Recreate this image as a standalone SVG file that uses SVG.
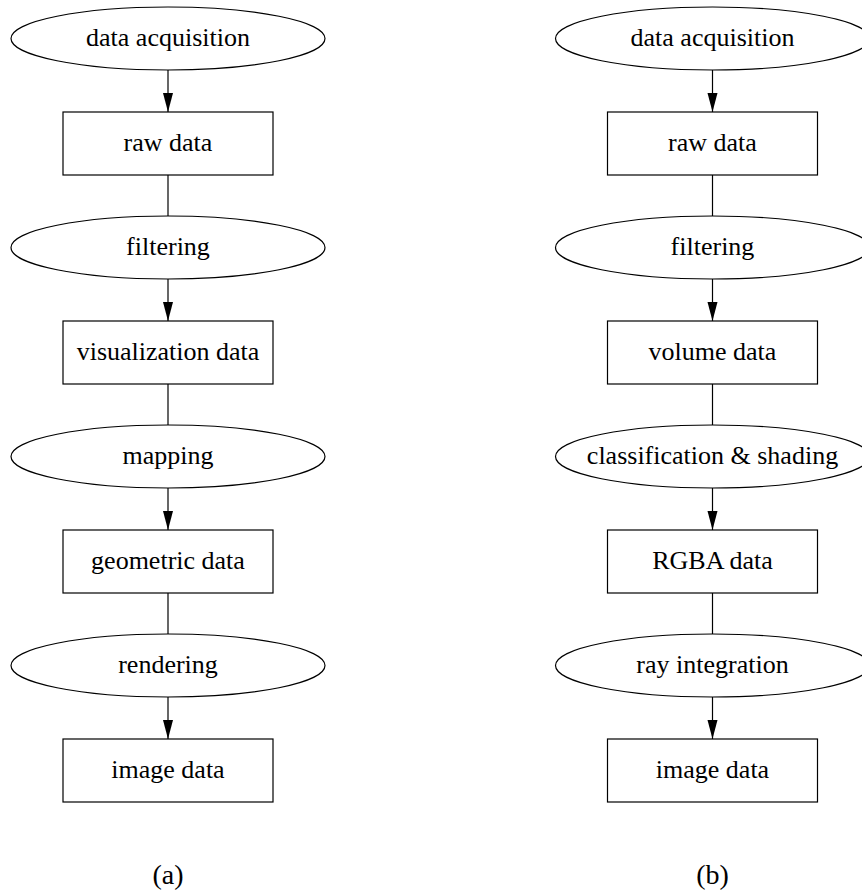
<svg xmlns="http://www.w3.org/2000/svg" width="862" height="896" viewBox="0 0 862 896">
<style>
.n{fill:#fff;stroke:#000;stroke-width:1.2}
.t{font-family:"Liberation Serif","Times New Roman",Times,serif;font-size:26px;fill:#000;text-anchor:middle}
.l{font-family:"Liberation Serif","Times New Roman",Times,serif;font-size:28px;fill:#000;text-anchor:middle}
.e{stroke:#000;stroke-width:1.2;fill:none}
</style>
<defs>
<marker id="ah" markerUnits="userSpaceOnUse" markerWidth="20" markerHeight="12" refX="19" refY="5" orient="auto">
<path d="M0,0 L19,5 L0,10 z" fill="#000"/>
</marker>
</defs>
<rect width="862" height="896" fill="#fff"/>
<g id="connectors">
<line class="e" x1="168" y1="70" x2="168" y2="112" marker-end="url(#ah)"/>
<line class="e" x1="168" y1="175" x2="168" y2="216"/>
<line class="e" x1="168" y1="279" x2="168" y2="321" marker-end="url(#ah)"/>
<line class="e" x1="168" y1="384" x2="168" y2="425"/>
<line class="e" x1="168" y1="488" x2="168" y2="530" marker-end="url(#ah)"/>
<line class="e" x1="168" y1="593" x2="168" y2="634"/>
<line class="e" x1="168" y1="697" x2="168" y2="739" marker-end="url(#ah)"/>
<line class="e" x1="712.5" y1="70" x2="712.5" y2="112" marker-end="url(#ah)"/>
<line class="e" x1="712.5" y1="175" x2="712.5" y2="216"/>
<line class="e" x1="712.5" y1="279" x2="712.5" y2="321" marker-end="url(#ah)"/>
<line class="e" x1="712.5" y1="384" x2="712.5" y2="425"/>
<line class="e" x1="712.5" y1="488" x2="712.5" y2="530" marker-end="url(#ah)"/>
<line class="e" x1="712.5" y1="593" x2="712.5" y2="634"/>
<line class="e" x1="712.5" y1="697" x2="712.5" y2="739" marker-end="url(#ah)"/>
</g>
<g id="a_acq"><ellipse class="n" cx="168" cy="38.5" rx="157" ry="31.5"/><text class="t" x="168" y="45.5">data acquisition</text></g>
<g id="a_raw"><rect class="n" x="63" y="112" width="210" height="63"/><text class="t" x="168" y="150.5">raw data</text></g>
<g id="a_filt"><ellipse class="n" cx="168" cy="247.5" rx="157" ry="31.5"/><text class="t" x="168" y="254.5">filtering</text></g>
<g id="a_vis"><rect class="n" x="63" y="321" width="210" height="63"/><text class="t" x="168" y="359.5">visualization data</text></g>
<g id="a_map"><ellipse class="n" cx="168" cy="456.5" rx="157" ry="31.5"/><text class="t" x="168" y="463.5">mapping</text></g>
<g id="a_geo"><rect class="n" x="63" y="530" width="210" height="63"/><text class="t" x="168" y="568.5">geometric data</text></g>
<g id="a_ren"><ellipse class="n" cx="168" cy="665.5" rx="157" ry="31.5"/><text class="t" x="168" y="672.5">rendering</text></g>
<g id="a_img"><rect class="n" x="63" y="739" width="210" height="63"/><text class="t" x="168" y="777.5">image data</text></g>
<g id="b_acq"><ellipse class="n" cx="712.5" cy="38.5" rx="157" ry="31.5"/><text class="t" x="712.5" y="45.5">data acquisition</text></g>
<g id="b_raw"><rect class="n" x="607.5" y="112" width="210" height="63"/><text class="t" x="712.5" y="150.5">raw data</text></g>
<g id="b_filt"><ellipse class="n" cx="712.5" cy="247.5" rx="157" ry="31.5"/><text class="t" x="712.5" y="254.5">filtering</text></g>
<g id="b_vol"><rect class="n" x="607.5" y="321" width="210" height="63"/><text class="t" x="712.5" y="359.5">volume data</text></g>
<g id="b_cls"><ellipse class="n" cx="712.5" cy="456.5" rx="157" ry="31.5"/><text class="t" x="712.5" y="463.5">classification &amp; shading</text></g>
<g id="b_rgba"><rect class="n" x="607.5" y="530" width="210" height="63"/><text class="t" x="712.5" y="568.5">RGBA data</text></g>
<g id="b_ray"><ellipse class="n" cx="712.5" cy="665.5" rx="157" ry="31.5"/><text class="t" x="712.5" y="672.5">ray integration</text></g>
<g id="b_img"><rect class="n" x="607.5" y="739" width="210" height="63"/><text class="t" x="712.5" y="777.5">image data</text></g>
<g id="label_a"><text class="l" x="168" y="884">(a)</text></g>
<g id="label_b"><text class="l" x="712.5" y="884">(b)</text></g>
</svg>
